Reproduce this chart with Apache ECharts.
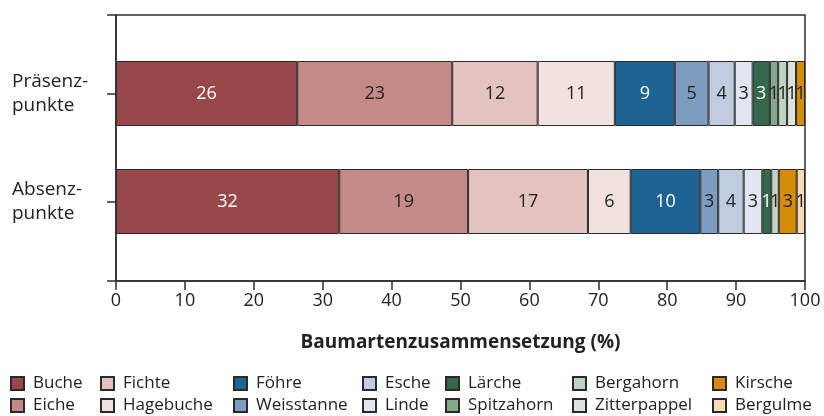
<!DOCTYPE html>
<html>
<head>
<meta charset="utf-8">
<script src="https://cdn.jsdelivr.net/npm/echarts@6/dist/echarts.min.js"></script>
<style>
  html, body { margin: 0; padding: 0; background: #fff; }
  #main { width: 824px; height: 416px; }
</style>
</head>
<body>
<div id="main"></div>
<script>
var categories = ['Präsenz-\npunkte', 'Absenz-\npunkte'];
var species = ['Buche', 'Eiche', 'Fichte', 'Hagebuche', 'Föhre', 'Weisstanne', 'Esche',
               'Linde', 'Lärche', 'Spitzahorn', 'Bergahorn', 'Zitterpappel', 'Kirsche', 'Bergulme'];
// anteil in %, reihenfolge wie species
var praesenz = [26.3, 22.5, 12.4, 11.2, 8.7, 4.9, 3.8, 2.6, 2.5, 1.2, 1.3, 1.3, 1.3, 0];
var absenz   = [32.4, 18.7, 17.4, 6.2, 10.1, 2.6, 3.7, 2.7, 1.3, 0, 1.1, 0, 2.6, 1.2];
var xTicks = [0, 100, 10];

var colors = ['#98474b', '#c48a87', '#e2c3bf', '#f2e2df', '#1e6394', '#7e9bc0', '#c0cce0',
              '#e1e6f1', '#33684a', '#84a88a', '#c2d2c2', '#dde4de', '#d68c08', '#f6dcb4'];
var whiteLabel = ['Buche', 'Föhre', 'Lärche'];
var legendCols = [[10, 'Buche', 'Eiche'], [100, 'Fichte', 'Hagebuche'], [233, 'Föhre', 'Weisstanne'],
                  [362, 'Esche', 'Linde'], [445, 'Lärche', 'Spitzahorn'], [572, 'Bergahorn', 'Zitterpappel'],
                  [712, 'Kirsche', 'Bergulme']];

var chart = echarts.init(document.getElementById('main'));
var txt = '#222';
var font = "'Open Sans', sans-serif";

var series = species.map(function (name, i) {
    return {
        name: name,
        type: 'bar',
        stack: 'total',
        xAxisIndex: 1,
        yAxisIndex: 1,
        barWidth: 65,
        itemStyle: { color: colors[i], borderColor: '#2a2a2a', borderWidth: 1 },
        label: {
            show: true,
            position: 'inside',
            fontFamily: font,
            fontSize: 18,
            color: whiteLabel.indexOf(name) >= 0 ? '#fff' : '#222',
            formatter: function (p) { return Math.round(p.value); }
        },
        data: [praesenz[i], absenz[i]].map(function (v) { return v === 0 ? '-' : v; })
    };
});

var legends = legendCols.map(function (c) {
    return {
        orient: 'vertical',
        left: c[0],
        bottom: 2,
        padding: 0,
        itemWidth: 13,
        itemHeight: 13,
        itemGap: 5,
        icon: 'rect',
        selectedMode: false,
        data: [c[1], c[2]],
        textStyle: { fontFamily: font, fontSize: 17, color: txt, padding: [0, 0, 0, 4] }
    };
});

var option = {
    animation: false,
    textStyle: { fontFamily: font },
    grid: [
        // rahmen
        { left: 116, right: 19, top: 15, height: 266, show: true, borderColor: '#2e2e2e', borderWidth: 1.5,
          backgroundColor: 'transparent' },
        // balken
        { left: 116, right: 19, top: 39.5, height: 216 }
    ],
    legend: legends,
    xAxis: [{
        gridIndex: 0,
        type: 'value',
        min: xTicks[0],
        max: xTicks[1],
        interval: xTicks[2],
        axisLine: { show: true, lineStyle: { color: '#2e2e2e', width: 1.5 } },
        axisTick: { show: true, length: 9, lineStyle: { color: '#2e2e2e', width: 1.5 } },
        splitLine: { show: false },
        axisLabel: { fontFamily: "'Liberation Sans Narrow', 'Open Sans', sans-serif", fontSize: 18, color: txt, margin: 11 },
        name: 'Baumartenzusammensetzung (%)',
        nameLocation: 'middle',
        nameGap: 52,
        nameTextStyle: { fontFamily: "'Liberation Sans Narrow', 'Open Sans', sans-serif", fontSize: 19, fontWeight: 'bold', color: txt }
    }, {
        gridIndex: 1,
        type: 'value',
        min: 0,
        max: 100,
        show: false
    }],
    yAxis: [{
        gridIndex: 0,
        type: 'value',
        min: 0,
        max: 1,
        interval: 1,
        axisLine: { show: true, lineStyle: { color: '#2e2e2e', width: 1.5 } },
        axisTick: { show: true, length: 9, lineStyle: { color: '#2e2e2e', width: 1.5 } },
        axisLabel: { show: false },
        splitLine: { show: false }
    }, {
        gridIndex: 1,
        type: 'category',
        inverse: true,
        data: categories,
        axisLine: { show: false },
        axisTick: { show: true, length: 9, alignWithLabel: true, lineStyle: { color: '#2e2e2e', width: 1.5 } },
        axisLabel: { fontFamily: font, fontSize: 19, lineHeight: 24, color: txt, align: 'left', margin: 104 }
    }],
    series: series
};
chart.setOption(option);
</script>
</body>
</html>
